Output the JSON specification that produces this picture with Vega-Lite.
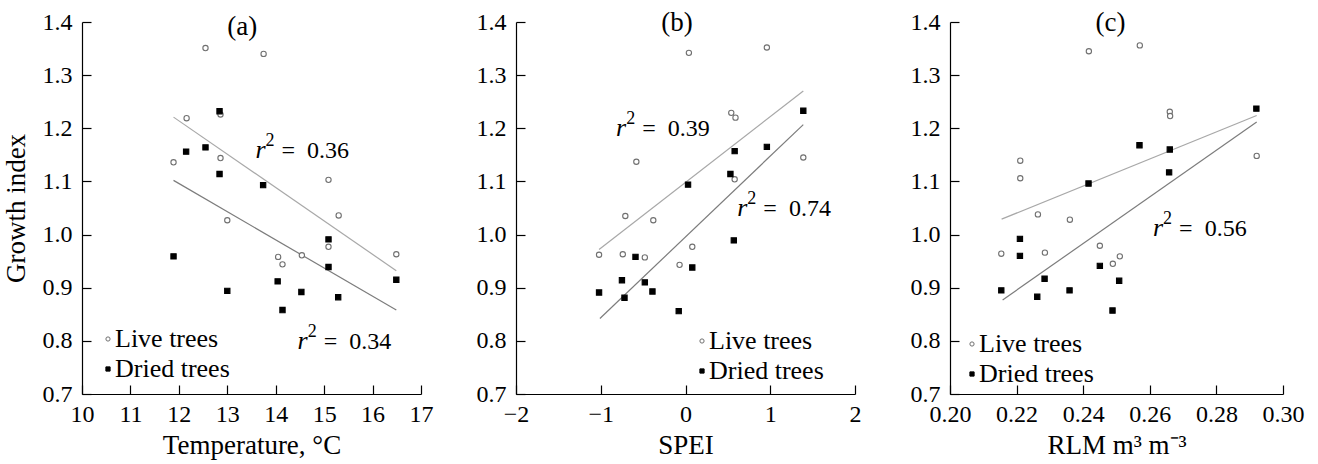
{
  "$schema": "https://vega.github.io/schema/vega-lite/v6.json",
  "padding": {"left": 2, "top": 9, "right": 5, "bottom": 2},
  "bounds": "flush",
  "spacing": 95,
  "config": {
    "font": "Liberation Serif",
    "view": {"stroke": null},
    "axis": {
      "domainColor": "#000", "tickColor": "#000", "tickSize": -9, "domainWidth": 1.2, "tickWidth": 1.2,
      "labelFontSize": 24, "titleFontSize": 27, "labelColor": "#000", "titleColor": "#000",
      "titleFontWeight": "normal", "grid": false, "labelFont": "Liberation Serif",
      "titleFont": "Liberation Serif", "labelFlush": false, "labelOverlap": false
    },
    "axisY": {"titlePadding": 12, "labelPadding": 19},
    "axisX": {"titlePadding": 6, "labelPadding": 17},
    "legend": {
      "labelFontSize": 26, "labelColor": "#000", "labelFont": "Liberation Serif", "symbolSize": 18,
      "symbolStrokeWidth": 1, "rowPadding": 4, "labelOffset": -6, "padding": 0
    },
    "text": {"font": "Liberation Serif", "color": "#000"}
  },
  "datasets": {
    "points": [
      {"panel": "a", "group": "Live trees", "x": 12.55, "y": 1.351},
      {"panel": "a", "group": "Live trees", "x": 13.75, "y": 1.340},
      {"panel": "a", "group": "Live trees", "x": 12.16, "y": 1.219},
      {"panel": "a", "group": "Live trees", "x": 12.86, "y": 1.226},
      {"panel": "a", "group": "Live trees", "x": 11.89, "y": 1.136},
      {"panel": "a", "group": "Live trees", "x": 12.86, "y": 1.144},
      {"panel": "a", "group": "Live trees", "x": 15.09, "y": 1.103},
      {"panel": "a", "group": "Live trees", "x": 15.30, "y": 1.036},
      {"panel": "a", "group": "Live trees", "x": 13.00, "y": 1.027},
      {"panel": "a", "group": "Live trees", "x": 14.05, "y": 0.958},
      {"panel": "a", "group": "Live trees", "x": 14.14, "y": 0.944},
      {"panel": "a", "group": "Live trees", "x": 14.54, "y": 0.961},
      {"panel": "a", "group": "Live trees", "x": 15.09, "y": 0.977},
      {"panel": "a", "group": "Live trees", "x": 16.49, "y": 0.963},
      {"panel": "a", "group": "Dried trees", "x": 12.84, "y": 1.232},
      {"panel": "a", "group": "Dried trees", "x": 12.15, "y": 1.156},
      {"panel": "a", "group": "Dried trees", "x": 12.55, "y": 1.164},
      {"panel": "a", "group": "Dried trees", "x": 12.84, "y": 1.114},
      {"panel": "a", "group": "Dried trees", "x": 13.74, "y": 1.093},
      {"panel": "a", "group": "Dried trees", "x": 15.09, "y": 0.991},
      {"panel": "a", "group": "Dried trees", "x": 11.89, "y": 0.959},
      {"panel": "a", "group": "Dried trees", "x": 15.09, "y": 0.939},
      {"panel": "a", "group": "Dried trees", "x": 16.49, "y": 0.915},
      {"panel": "a", "group": "Dried trees", "x": 14.04, "y": 0.912},
      {"panel": "a", "group": "Dried trees", "x": 13.00, "y": 0.894},
      {"panel": "a", "group": "Dried trees", "x": 14.53, "y": 0.892},
      {"panel": "a", "group": "Dried trees", "x": 15.29, "y": 0.882},
      {"panel": "a", "group": "Dried trees", "x": 14.14, "y": 0.858},
      {"panel": "b", "group": "Live trees", "x": 0.04, "y": 1.342},
      {"panel": "b", "group": "Live trees", "x": 0.96, "y": 1.352},
      {"panel": "b", "group": "Live trees", "x": 0.54, "y": 1.229},
      {"panel": "b", "group": "Live trees", "x": 0.59, "y": 1.220},
      {"panel": "b", "group": "Live trees", "x": -0.58, "y": 1.137},
      {"panel": "b", "group": "Live trees", "x": 1.39, "y": 1.145},
      {"panel": "b", "group": "Live trees", "x": 0.58, "y": 1.104},
      {"panel": "b", "group": "Live trees", "x": -0.71, "y": 1.035},
      {"panel": "b", "group": "Live trees", "x": -0.38, "y": 1.027},
      {"panel": "b", "group": "Live trees", "x": -1.02, "y": 0.962},
      {"panel": "b", "group": "Live trees", "x": -0.74, "y": 0.963},
      {"panel": "b", "group": "Live trees", "x": -0.48, "y": 0.957},
      {"panel": "b", "group": "Live trees", "x": 0.08, "y": 0.977},
      {"panel": "b", "group": "Live trees", "x": -0.07, "y": 0.943},
      {"panel": "b", "group": "Dried trees", "x": 1.39, "y": 1.233},
      {"panel": "b", "group": "Dried trees", "x": 0.96, "y": 1.165},
      {"panel": "b", "group": "Dried trees", "x": 0.58, "y": 1.157},
      {"panel": "b", "group": "Dried trees", "x": 0.53, "y": 1.114},
      {"panel": "b", "group": "Dried trees", "x": 0.03, "y": 1.094},
      {"panel": "b", "group": "Dried trees", "x": 0.57, "y": 0.989},
      {"panel": "b", "group": "Dried trees", "x": 0.08, "y": 0.938},
      {"panel": "b", "group": "Dried trees", "x": -0.59, "y": 0.958},
      {"panel": "b", "group": "Dried trees", "x": -0.75, "y": 0.914},
      {"panel": "b", "group": "Dried trees", "x": -0.48, "y": 0.910},
      {"panel": "b", "group": "Dried trees", "x": -1.02, "y": 0.891},
      {"panel": "b", "group": "Dried trees", "x": -0.72, "y": 0.881},
      {"panel": "b", "group": "Dried trees", "x": -0.39, "y": 0.893},
      {"panel": "b", "group": "Dried trees", "x": -0.08, "y": 0.856},
      {"panel": "c", "group": "Live trees", "x": 0.2417, "y": 1.345},
      {"panel": "c", "group": "Live trees", "x": 0.2570, "y": 1.356},
      {"panel": "c", "group": "Live trees", "x": 0.2660, "y": 1.231},
      {"panel": "c", "group": "Live trees", "x": 0.2661, "y": 1.223},
      {"panel": "c", "group": "Live trees", "x": 0.2211, "y": 1.139},
      {"panel": "c", "group": "Live trees", "x": 0.2211, "y": 1.106},
      {"panel": "c", "group": "Live trees", "x": 0.2921, "y": 1.148},
      {"panel": "c", "group": "Live trees", "x": 0.2264, "y": 1.038},
      {"panel": "c", "group": "Live trees", "x": 0.2360, "y": 1.028},
      {"panel": "c", "group": "Live trees", "x": 0.2154, "y": 0.964},
      {"panel": "c", "group": "Live trees", "x": 0.2285, "y": 0.966},
      {"panel": "c", "group": "Live trees", "x": 0.2450, "y": 0.979},
      {"panel": "c", "group": "Live trees", "x": 0.2489, "y": 0.945},
      {"panel": "c", "group": "Live trees", "x": 0.2510, "y": 0.959},
      {"panel": "c", "group": "Dried trees", "x": 0.2920, "y": 1.237},
      {"panel": "c", "group": "Dried trees", "x": 0.2569, "y": 1.168},
      {"panel": "c", "group": "Dried trees", "x": 0.2660, "y": 1.160},
      {"panel": "c", "group": "Dried trees", "x": 0.2658, "y": 1.117},
      {"panel": "c", "group": "Dried trees", "x": 0.2416, "y": 1.096},
      {"panel": "c", "group": "Dried trees", "x": 0.2210, "y": 0.992},
      {"panel": "c", "group": "Dried trees", "x": 0.2210, "y": 0.960},
      {"panel": "c", "group": "Dried trees", "x": 0.2450, "y": 0.941},
      {"panel": "c", "group": "Dried trees", "x": 0.2284, "y": 0.917},
      {"panel": "c", "group": "Dried trees", "x": 0.2508, "y": 0.913},
      {"panel": "c", "group": "Dried trees", "x": 0.2154, "y": 0.895},
      {"panel": "c", "group": "Dried trees", "x": 0.2359, "y": 0.895},
      {"panel": "c", "group": "Dried trees", "x": 0.2262, "y": 0.883},
      {"panel": "c", "group": "Dried trees", "x": 0.2488, "y": 0.857}
    ],
    "fits": [
      {"panel": "a", "fit": "live", "x": 11.89, "y": 1.221},
      {"panel": "a", "fit": "live", "x": 16.49, "y": 0.932},
      {"panel": "a", "fit": "dried", "x": 11.89, "y": 1.102},
      {"panel": "a", "fit": "dried", "x": 16.49, "y": 0.858},
      {"panel": "b", "fit": "live", "x": -1.02, "y": 0.972},
      {"panel": "b", "fit": "live", "x": 1.39, "y": 1.270},
      {"panel": "b", "fit": "dried", "x": -1.01, "y": 0.842},
      {"panel": "b", "fit": "dried", "x": 1.39, "y": 1.207},
      {"panel": "c", "fit": "live", "x": 0.2155, "y": 1.029},
      {"panel": "c", "fit": "live", "x": 0.2921, "y": 1.224},
      {"panel": "c", "fit": "dried", "x": 0.2158, "y": 0.877},
      {"panel": "c", "fit": "dried", "x": 0.2921, "y": 1.212}
    ],
    "notes": [
      {"panel": "a", "x": 13.79, "y": 1.145, "label": "= \u00a00.36"},
      {"panel": "a", "x": 14.66, "y": 0.784, "label": "= \u00a00.34"},
      {"panel": "b", "x": -0.70, "y": 1.185, "label": "= \u00a00.39"},
      {"panel": "b", "x": 0.73, "y": 1.035, "label": "= \u00a00.74"},
      {"panel": "c", "x": 0.264, "y": 0.998, "label": "= \u00a00.56"}
    ],
    "heads": [
      {"panel": "a", "x": 13.31, "y": 1.391, "label": "(a)"},
      {"panel": "b", "x": -0.10, "y": 1.398, "label": "(b)"},
      {"panel": "c", "x": 0.2482, "y": 1.398, "label": "(c)"}
    ]
  },
  "resolve": {
    "scale": {"color": "independent", "shape": "independent", "fill": "independent", "stroke": "independent"},
    "legend": {"shape": "independent", "fill": "independent", "stroke": "independent"}
  },
  "hconcat": [
    {
      "width": 339, "height": 372,
      "encoding": {
        "x": {"field": "x", "type": "quantitative", "scale": {"domain": [10, 17], "nice": false, "zero": false},
              "axis": {"values": [10, 11, 12, 13, 14, 15, 16, 17], "format": "d", "title": "Temperature, °C"}},
        "y": {"field": "y", "type": "quantitative", "scale": {"domain": [0.7, 1.4], "nice": false, "zero": false},
              "axis": {"values": [0.7, 0.8, 0.9, 1.0, 1.1, 1.2, 1.3, 1.4], "format": ".1f", "title": "Growth index"}}
      },
      "layer": [
        {"data": {"name": "fits"}, "transform": [{"filter": "datum.panel === 'a'"}],
         "mark": {"type": "line", "strokeWidth": 1.2},
         "encoding": {"detail": {"field": "fit"}, "color": {"field": "fit", "type": "nominal", "scale": {"domain": ["live", "dried"], "range": ["#a8a8a8", "#7c7c7c"]}, "legend": null}}},
        {"data": {"name": "points"}, "transform": [{"filter": "datum.panel === 'a'"}],
         "mark": {"type": "point", "size": 28, "strokeWidth": 1.1, "opacity": 1},
         "encoding": {
           "shape": {"field": "group", "type": "nominal", "scale": {"domain": ["Live trees", "Dried trees"], "range": ["circle", "square"]}, "legend": {"title": null, "orient": "none", "legendX": 13, "legendY": 304}},
           "fill": {"field": "group", "type": "nominal", "scale": {"domain": ["Live trees", "Dried trees"], "range": ["#ffffff", "#000000"]}, "legend": {"title": null, "orient": "none", "legendX": 13, "legendY": 304}},
           "stroke": {"field": "group", "type": "nominal", "scale": {"domain": ["Live trees", "Dried trees"], "range": ["#707070", "#000000"]}, "legend": {"title": null, "orient": "none", "legendX": 13, "legendY": 304}}
         }},
        {"data": {"name": "notes"}, "transform": [{"filter": "datum.panel === 'a'"}],
         "mark": {"type": "text", "text": "r", "fontStyle": "italic", "align": "right", "baseline": "alphabetic", "fontSize": 26}},
        {"data": {"name": "notes"}, "transform": [{"filter": "datum.panel === 'a'"}],
         "mark": {"type": "text", "text": "2", "align": "left", "baseline": "alphabetic", "fontSize": 18, "dy": -12}},
        {"data": {"name": "notes"}, "transform": [{"filter": "datum.panel === 'a'"}],
         "mark": {"type": "text", "align": "left", "baseline": "alphabetic", "fontSize": 24, "dx": 16},
         "encoding": {"text": {"field": "label"}}},
        {"data": {"name": "heads"}, "transform": [{"filter": "datum.panel === 'a'"}],
         "mark": {"type": "text", "align": "center", "baseline": "middle", "fontSize": 27},
         "encoding": {"text": {"field": "label"}}}
      ]
    },
    {
      "width": 339, "height": 372,
      "encoding": {
        "x": {"field": "x", "type": "quantitative", "scale": {"domain": [-2, 2], "nice": false, "zero": false},
              "axis": {"values": [-2, -1, 0, 1, 2], "format": "d", "title": "SPEI"}},
        "y": {"field": "y", "type": "quantitative", "scale": {"domain": [0.7, 1.4], "nice": false, "zero": false},
              "axis": {"values": [0.7, 0.8, 0.9, 1.0, 1.1, 1.2, 1.3, 1.4], "format": ".1f", "title": null}}
      },
      "layer": [
        {"data": {"name": "fits"}, "transform": [{"filter": "datum.panel === 'b'"}],
         "mark": {"type": "line", "strokeWidth": 1.2},
         "encoding": {"detail": {"field": "fit"}, "color": {"field": "fit", "type": "nominal", "scale": {"domain": ["live", "dried"], "range": ["#a8a8a8", "#7c7c7c"]}, "legend": null}}},
        {"data": {"name": "points"}, "transform": [{"filter": "datum.panel === 'b'"}],
         "mark": {"type": "point", "size": 28, "strokeWidth": 1.1, "opacity": 1},
         "encoding": {
           "shape": {"field": "group", "type": "nominal", "scale": {"domain": ["Live trees", "Dried trees"], "range": ["circle", "square"]}, "legend": {"title": null, "orient": "none", "legendX": 173, "legendY": 306}},
           "fill": {"field": "group", "type": "nominal", "scale": {"domain": ["Live trees", "Dried trees"], "range": ["#ffffff", "#000000"]}, "legend": {"title": null, "orient": "none", "legendX": 173, "legendY": 306}},
           "stroke": {"field": "group", "type": "nominal", "scale": {"domain": ["Live trees", "Dried trees"], "range": ["#707070", "#000000"]}, "legend": {"title": null, "orient": "none", "legendX": 173, "legendY": 306}}
         }},
        {"data": {"name": "notes"}, "transform": [{"filter": "datum.panel === 'b'"}],
         "mark": {"type": "text", "text": "r", "fontStyle": "italic", "align": "right", "baseline": "alphabetic", "fontSize": 26}},
        {"data": {"name": "notes"}, "transform": [{"filter": "datum.panel === 'b'"}],
         "mark": {"type": "text", "text": "2", "align": "left", "baseline": "alphabetic", "fontSize": 18, "dy": -12}},
        {"data": {"name": "notes"}, "transform": [{"filter": "datum.panel === 'b'"}],
         "mark": {"type": "text", "align": "left", "baseline": "alphabetic", "fontSize": 24, "dx": 16},
         "encoding": {"text": {"field": "label"}}},
        {"data": {"name": "heads"}, "transform": [{"filter": "datum.panel === 'b'"}],
         "mark": {"type": "text", "align": "center", "baseline": "middle", "fontSize": 27},
         "encoding": {"text": {"field": "label"}}}
      ]
    },
    {
      "width": 333, "height": 372,
      "encoding": {
        "x": {"field": "x", "type": "quantitative", "scale": {"domain": [0.2, 0.3], "nice": false, "zero": false},
              "axis": {"values": [0.2, 0.22, 0.24, 0.26, 0.28, 0.3], "format": ".2f", "title": "RLM m³ m⁻³"}},
        "y": {"field": "y", "type": "quantitative", "scale": {"domain": [0.7, 1.4], "nice": false, "zero": false},
              "axis": {"values": [0.7, 0.8, 0.9, 1.0, 1.1, 1.2, 1.3, 1.4], "format": ".1f", "title": null}}
      },
      "layer": [
        {"data": {"name": "fits"}, "transform": [{"filter": "datum.panel === 'c'"}],
         "mark": {"type": "line", "strokeWidth": 1.2},
         "encoding": {"detail": {"field": "fit"}, "color": {"field": "fit", "type": "nominal", "scale": {"domain": ["live", "dried"], "range": ["#a8a8a8", "#7c7c7c"]}, "legend": null}}},
        {"data": {"name": "points"}, "transform": [{"filter": "datum.panel === 'c'"}],
         "mark": {"type": "point", "size": 28, "strokeWidth": 1.1, "opacity": 1},
         "encoding": {
           "shape": {"field": "group", "type": "nominal", "scale": {"domain": ["Live trees", "Dried trees"], "range": ["circle", "square"]}, "legend": {"title": null, "orient": "none", "legendX": 9, "legendY": 309}},
           "fill": {"field": "group", "type": "nominal", "scale": {"domain": ["Live trees", "Dried trees"], "range": ["#ffffff", "#000000"]}, "legend": {"title": null, "orient": "none", "legendX": 9, "legendY": 309}},
           "stroke": {"field": "group", "type": "nominal", "scale": {"domain": ["Live trees", "Dried trees"], "range": ["#707070", "#000000"]}, "legend": {"title": null, "orient": "none", "legendX": 9, "legendY": 309}}
         }},
        {"data": {"name": "notes"}, "transform": [{"filter": "datum.panel === 'c'"}],
         "mark": {"type": "text", "text": "r", "fontStyle": "italic", "align": "right", "baseline": "alphabetic", "fontSize": 26}},
        {"data": {"name": "notes"}, "transform": [{"filter": "datum.panel === 'c'"}],
         "mark": {"type": "text", "text": "2", "align": "left", "baseline": "alphabetic", "fontSize": 18, "dy": -12}},
        {"data": {"name": "notes"}, "transform": [{"filter": "datum.panel === 'c'"}],
         "mark": {"type": "text", "align": "left", "baseline": "alphabetic", "fontSize": 24, "dx": 16},
         "encoding": {"text": {"field": "label"}}},
        {"data": {"name": "heads"}, "transform": [{"filter": "datum.panel === 'c'"}],
         "mark": {"type": "text", "align": "center", "baseline": "middle", "fontSize": 27},
         "encoding": {"text": {"field": "label"}}}
      ]
    }
  ]
}
